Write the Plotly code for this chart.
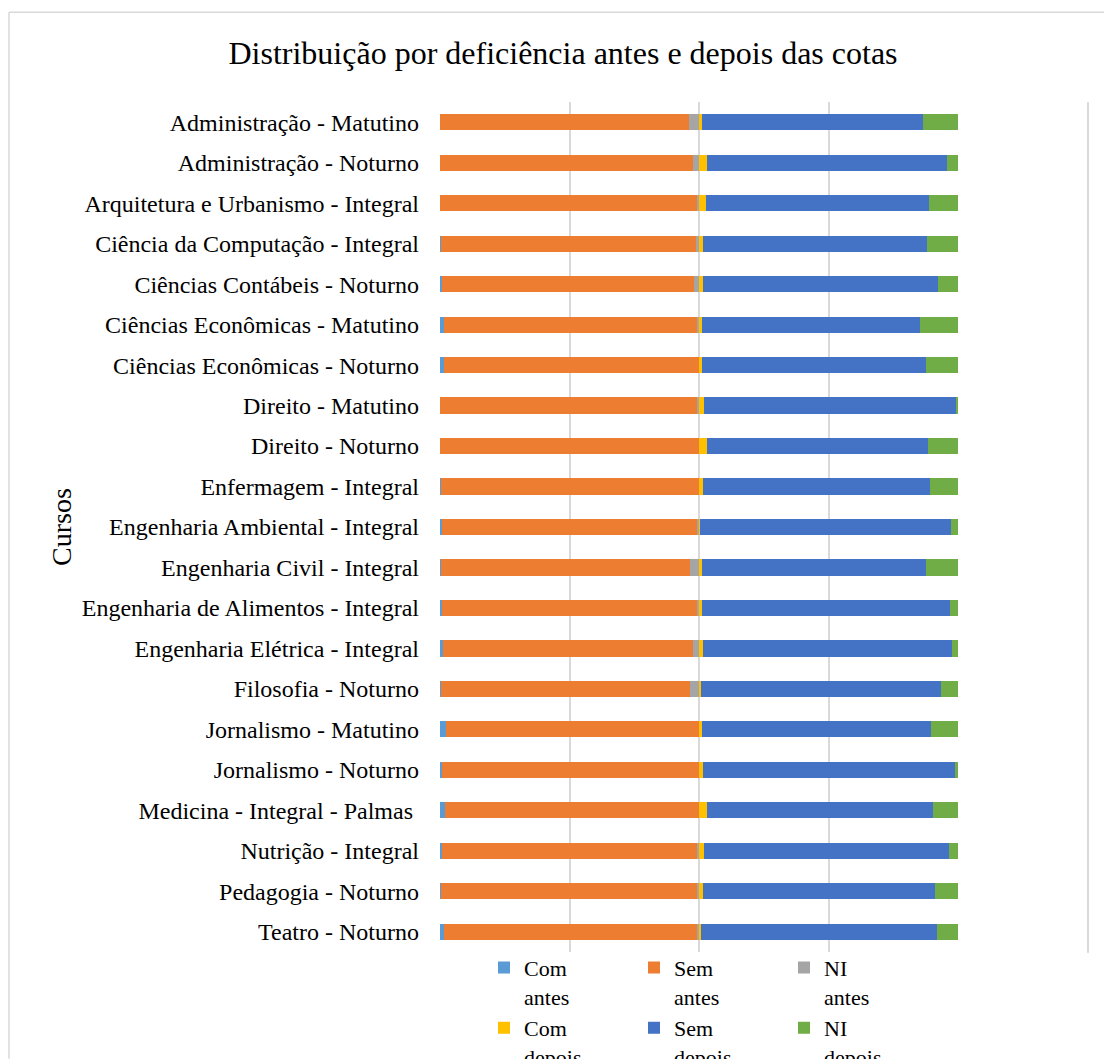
import plotly.graph_objects as go

# Courses (top to bottom)
categories = [
    "Administração - Matutino",
    "Administração - Noturno",
    "Arquitetura e Urbanismo - Integral",
    "Ciência da Computação - Integral",
    "Ciências Contábeis - Noturno",
    "Ciências Econômicas - Matutino",
    "Ciências Econômicas - Noturno",
    "Direito - Matutino",
    "Direito - Noturno",
    "Enfermagem - Integral",
    "Engenharia Ambiental - Integral",
    "Engenharia Civil - Integral",
    "Engenharia de Alimentos - Integral",
    "Engenharia Elétrica - Integral",
    "Filosofia - Noturno",
    "Jornalismo - Matutino",
    "Jornalismo - Noturno",
    "Medicina - Integral - Palmas\u00a0",
    "Nutrição - Integral",
    "Pedagogia - Noturno",
    "Teatro - Noturno",
]

# Share of students (%) before the quotas
com_antes = [0, 0, 0, 0.4, 0.8, 1.5, 1.5, 0, 0, 0.4, 0.8, 0.4, 0.8, 1.3, 0.4, 2.4, 0.9, 1.8, 0.9, 0.3, 1.5]
sem_antes = [96.1, 97.7, 99.2, 98.3, 97.2, 97.7, 98.5, 99.2, 100, 99.6, 98.7, 96.1, 98.4, 96.4, 96.1, 97.6, 99.1, 98.2, 98.6, 98.9, 97.7]
ni_antes = [3.9, 2.3, 0.8, 1.3, 2.0, 0.8, 0, 0.8, 0, 0, 0.5, 3.5, 0.8, 2.3, 3.5, 0, 0, 0, 0.5, 0.8, 0.8]

# Share of students (%) after the quotas
com_depois = [1.3, 3.2, 2.6, 1.5, 1.7, 1.3, 1.3, 2.1, 3.0, 1.4, 0.5, 1.3, 1.0, 1.7, 0.6, 1.3, 1.7, 3.0, 1.8, 1.4, 0.9]
sem_depois = [85.0, 92.4, 86.3, 86.6, 90.4, 84.1, 86.2, 97.0, 85.6, 87.6, 96.9, 86.2, 96.0, 95.8, 92.7, 88.1, 97.0, 87.2, 94.6, 89.6, 90.8]
ni_depois = [13.7, 4.4, 11.1, 11.9, 7.9, 14.6, 12.5, 0.9, 11.4, 11.0, 2.6, 12.5, 3.0, 2.5, 6.7, 10.6, 1.3, 9.8, 3.6, 9.0, 8.3]

series = [
    ("Com<br>antes", com_antes, "#5B9BD5"),
    ("Sem<br>antes", sem_antes, "#ED7D31"),
    ("NI<br>antes", ni_antes, "#A5A5A5"),
    ("Com<br>depois", com_depois, "#FFC000"),
    ("Sem<br>depois", sem_depois, "#4472C4"),
    ("NI<br>depois", ni_depois, "#70AD47"),
]

FONT = "Liberation Serif, Times New Roman, serif"

fig = go.Figure()
for name, vals, color in series:
    fig.add_trace(go.Bar(
        y=categories, x=vals, name=name, orientation="h",
        marker=dict(color=color, line=dict(width=0)),
    ))

W, H = 1104, 1059
L, R, T, B = 440, 146, 101.75, 106.75
pw, ph = W - L - R, H - T - B


def px(x):
    return (x - L) / pw


def py(y):
    return (H - B - y) / ph


fig.update_layout(
    width=W, height=H,
    margin=dict(l=L, r=R, t=T, b=B, autoexpand=False),
    barmode="stack",
    bargap=0.6,
    plot_bgcolor="white",
    paper_bgcolor="white",
    font=dict(family=FONT, size=24, color="#000000"),
    title=dict(
        text="Distribuição por deficiência antes e depois das cotas",
        font=dict(family=FONT, size=32, color="#000000"),
        x=px(563), xanchor="center", xref="paper",
        y=1 - 53 / H, yanchor="middle",
    ),
    xaxis=dict(
        range=[0, 200], dtick=50, tick0=0,
        showgrid=True, gridcolor="#D9D9D9", gridwidth=2,
        showticklabels=False, zeroline=False, showline=False,
        fixedrange=True,
    ),
    yaxis=dict(
        autorange="reversed",
        showgrid=False, showline=False, zeroline=False,
        ticks="", ticklabelstandoff=20,
        tickfont=dict(family=FONT, size=24, color="#000000"),
        title=dict(text="Cursos", font=dict(family=FONT, size=28, color="#000000"), standoff=1),
    ),
    legend=dict(
        orientation="h",
        x=px(484), xanchor="left",
        y=py(947), yanchor="top",
        entrywidth=105, entrywidthmode="pixels",
        itemwidth=30, valign="top",
        font=dict(family=FONT, size=22, color="#000000"),
        traceorder="normal", bgcolor="rgba(0,0,0,0)",
        tracegroupgap=0,
    ),
    showlegend=True,
    shapes=[
        # chart frame: top and left edges
        dict(type="line", xref="paper", yref="paper",
             x0=px(9), x1=px(1104), y0=py(12), y1=py(12),
             line=dict(color="#D9D9D9", width=1.5), layer="below"),
        dict(type="line", xref="paper", yref="paper",
             x0=px(9), x1=px(9), y0=py(12), y1=py(1059),
             line=dict(color="#D9D9D9", width=1.5), layer="below"),
        # right-hand rule
        dict(type="line", xref="paper", yref="paper",
             x0=px(1088), x1=px(1088), y0=py(953), y1=py(102),
             line=dict(color="#D9D9D9", width=2), layer="below"),
    ],
)

fig.write_html("out.html")
